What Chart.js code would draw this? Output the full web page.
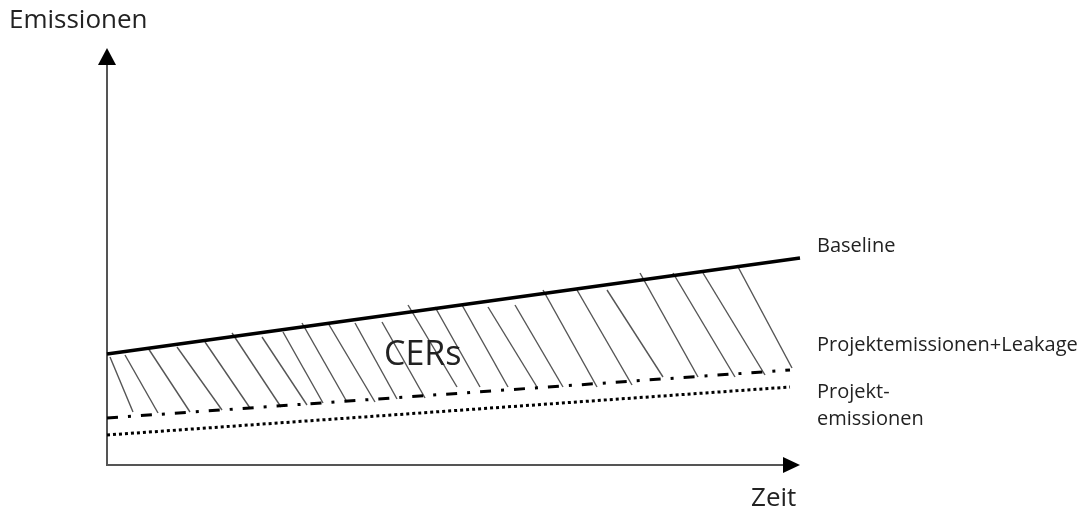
<!DOCTYPE html>
<html>
<head>
<meta charset="utf-8">
<script src="https://cdn.jsdelivr.net/npm/chart.js@4"></script>
<style>
    html, body { margin: 0; padding: 0; background: #fff; }
    #wrap { width: 1081px; height: 522px; }
</style>
</head>
<body>
<div id="wrap"><canvas id="cerChart" width="1081" height="522"></canvas></div>
<script>
// Schematic values (Zeit / Emissionen in arbitrary units)
const timeEnds = [0, 69.3];
const baseline = [22.2, 41.4];
const leakageTime = [0, 68.3];
const projektLeakage = [9.4, 19.0];
const projektTime = [0, 68.3];
const projekt = [6.0, 15.6];

// hatching of the CER area: start (on baseline) and end (near project line)
const hatchTopX = [0.3, 1.8, 4.1, 7.0, 9.8, 12.5, 15.5, 17.6, 19.5, 22.1, 24.8, 27.5,
                   30.1, 32.8, 35.5, 38.1, 40.8, 43.6, 47.0, 50.0, 53.3, 56.6, 59.6, 63.0];
const hatchTopY = [21.6, 22.0, 23.4, 23.6, 24.6, 26.4, 25.6, 26.6, 28.4, 28.4, 28.4, 28.6,
                   32.0, 31.6, 32.0, 31.6, 32.0, 35.0, 35.0, 35.0, 38.4, 38.4, 38.4, 40.0];
const hatchBottomX = [2.6, 5.1, 8.3, 11.5, 14.3, 17.4, 20.0, 21.6, 24.0, 26.8, 29.0, 31.8,
                      35.0, 37.3, 40.1, 43.0, 45.6, 49.0, 52.5, 55.6, 59.1, 62.8, 65.8, 68.5];
const hatchBottomY = [10.6, 10.4, 10.6, 11.0, 11.4, 11.6, 12.0, 12.4, 12.6, 12.6, 13.2, 13.4,
                      15.6, 15.6, 15.6, 15.6, 15.6, 15.6, 16.0, 17.6, 17.6, 17.6, 18.0, 19.4];

const FONT = '"Open Sans", "Noto Sans", sans-serif';

const toPoints = (xs, ys) => xs.map((x, i) => ({ x: x, y: ys[i] }));

const hatchSets = hatchTopX.map((x, i) => ({
    data: [{ x: x, y: hatchTopY[i] }, { x: hatchBottomX[i], y: hatchBottomY[i] }],
    borderColor: '#555',
    borderWidth: 1.4,
    pointRadius: 0,
    clip: false
}));

// arrows on the axes + free text labels
const annotations = {
    id: 'annotations',
    afterDraw(chart) {
        const { ctx, chartArea } = chart;
        const x0 = chartArea.left, y0 = chartArea.bottom;
        ctx.save();
        ctx.fillStyle = '#000';
        // y arrow
        ctx.beginPath();
        ctx.moveTo(x0, chartArea.top - 14);
        ctx.lineTo(x0 - 9, chartArea.top + 3);
        ctx.lineTo(x0 + 9, chartArea.top + 3);
        ctx.closePath();
        ctx.fill();
        // x arrow
        ctx.beginPath();
        ctx.moveTo(chartArea.right + 15, y0);
        ctx.lineTo(chartArea.right - 2, y0 - 8);
        ctx.lineTo(chartArea.right - 2, y0 + 8);
        ctx.closePath();
        ctx.fill();

        ctx.fillStyle = '#222';
        ctx.textBaseline = 'middle';
        ctx.textAlign = 'left';
        ctx.font = '26px ' + FONT;
        ctx.fillText('Emissionen', 9, 21);
        ctx.fillText('Zeit', 751, 499);
        ctx.font = '20px ' + FONT;
        ctx.fillText('Baseline', 817, 246);
        ctx.fillText('Projektemissionen+Leakage', 817, 345);
        ctx.fillText('Projekt-', 817, 392);
        ctx.fillText('emissionen', 817, 419);
        ctx.font = '34px ' + FONT;
        ctx.fillText('CERs', 384, 355);
        ctx.restore();
    }
};

new Chart(document.getElementById('cerChart'), {
    type: 'line',
    data: {
        datasets: [
            {
                label: 'Baseline',
                data: toPoints(timeEnds, baseline),
                borderColor: '#000',
                borderWidth: 3.5,
                pointRadius: 0,
                clip: false
            },
            {
                label: 'Projektemissionen+Leakage',
                data: toPoints(leakageTime, projektLeakage),
                borderColor: '#000',
                borderWidth: 3,
                borderDash: [11, 10, 3, 10],
                pointRadius: 0,
                clip: false
            },
            {
                label: 'Projektemissionen',
                data: toPoints(projektTime, projekt),
                borderColor: '#000',
                borderWidth: 3,
                borderDash: [3, 3],
                pointRadius: 0,
                clip: false
            },
            ...hatchSets
        ]
    },
    options: {
        responsive: false,
        animation: false,
        layout: { padding: { left: 107, right: 296, top: 62, bottom: 57 } },
        scales: {
            x: {
                type: 'linear',
                min: 0,
                max: 67.8,
                ticks: { display: false },
                grid: { display: false, drawTicks: false },
                border: { display: true, color: '#555', width: 2 }
            },
            y: {
                type: 'linear',
                min: 0,
                max: 80.6,
                ticks: { display: false },
                grid: { display: false, drawTicks: false },
                border: { display: true, color: '#555', width: 2 }
            }
        },
        plugins: {
            legend: { display: false },
            tooltip: { enabled: false }
        }
    },
    plugins: [annotations]
});
</script>
</body>
</html>
